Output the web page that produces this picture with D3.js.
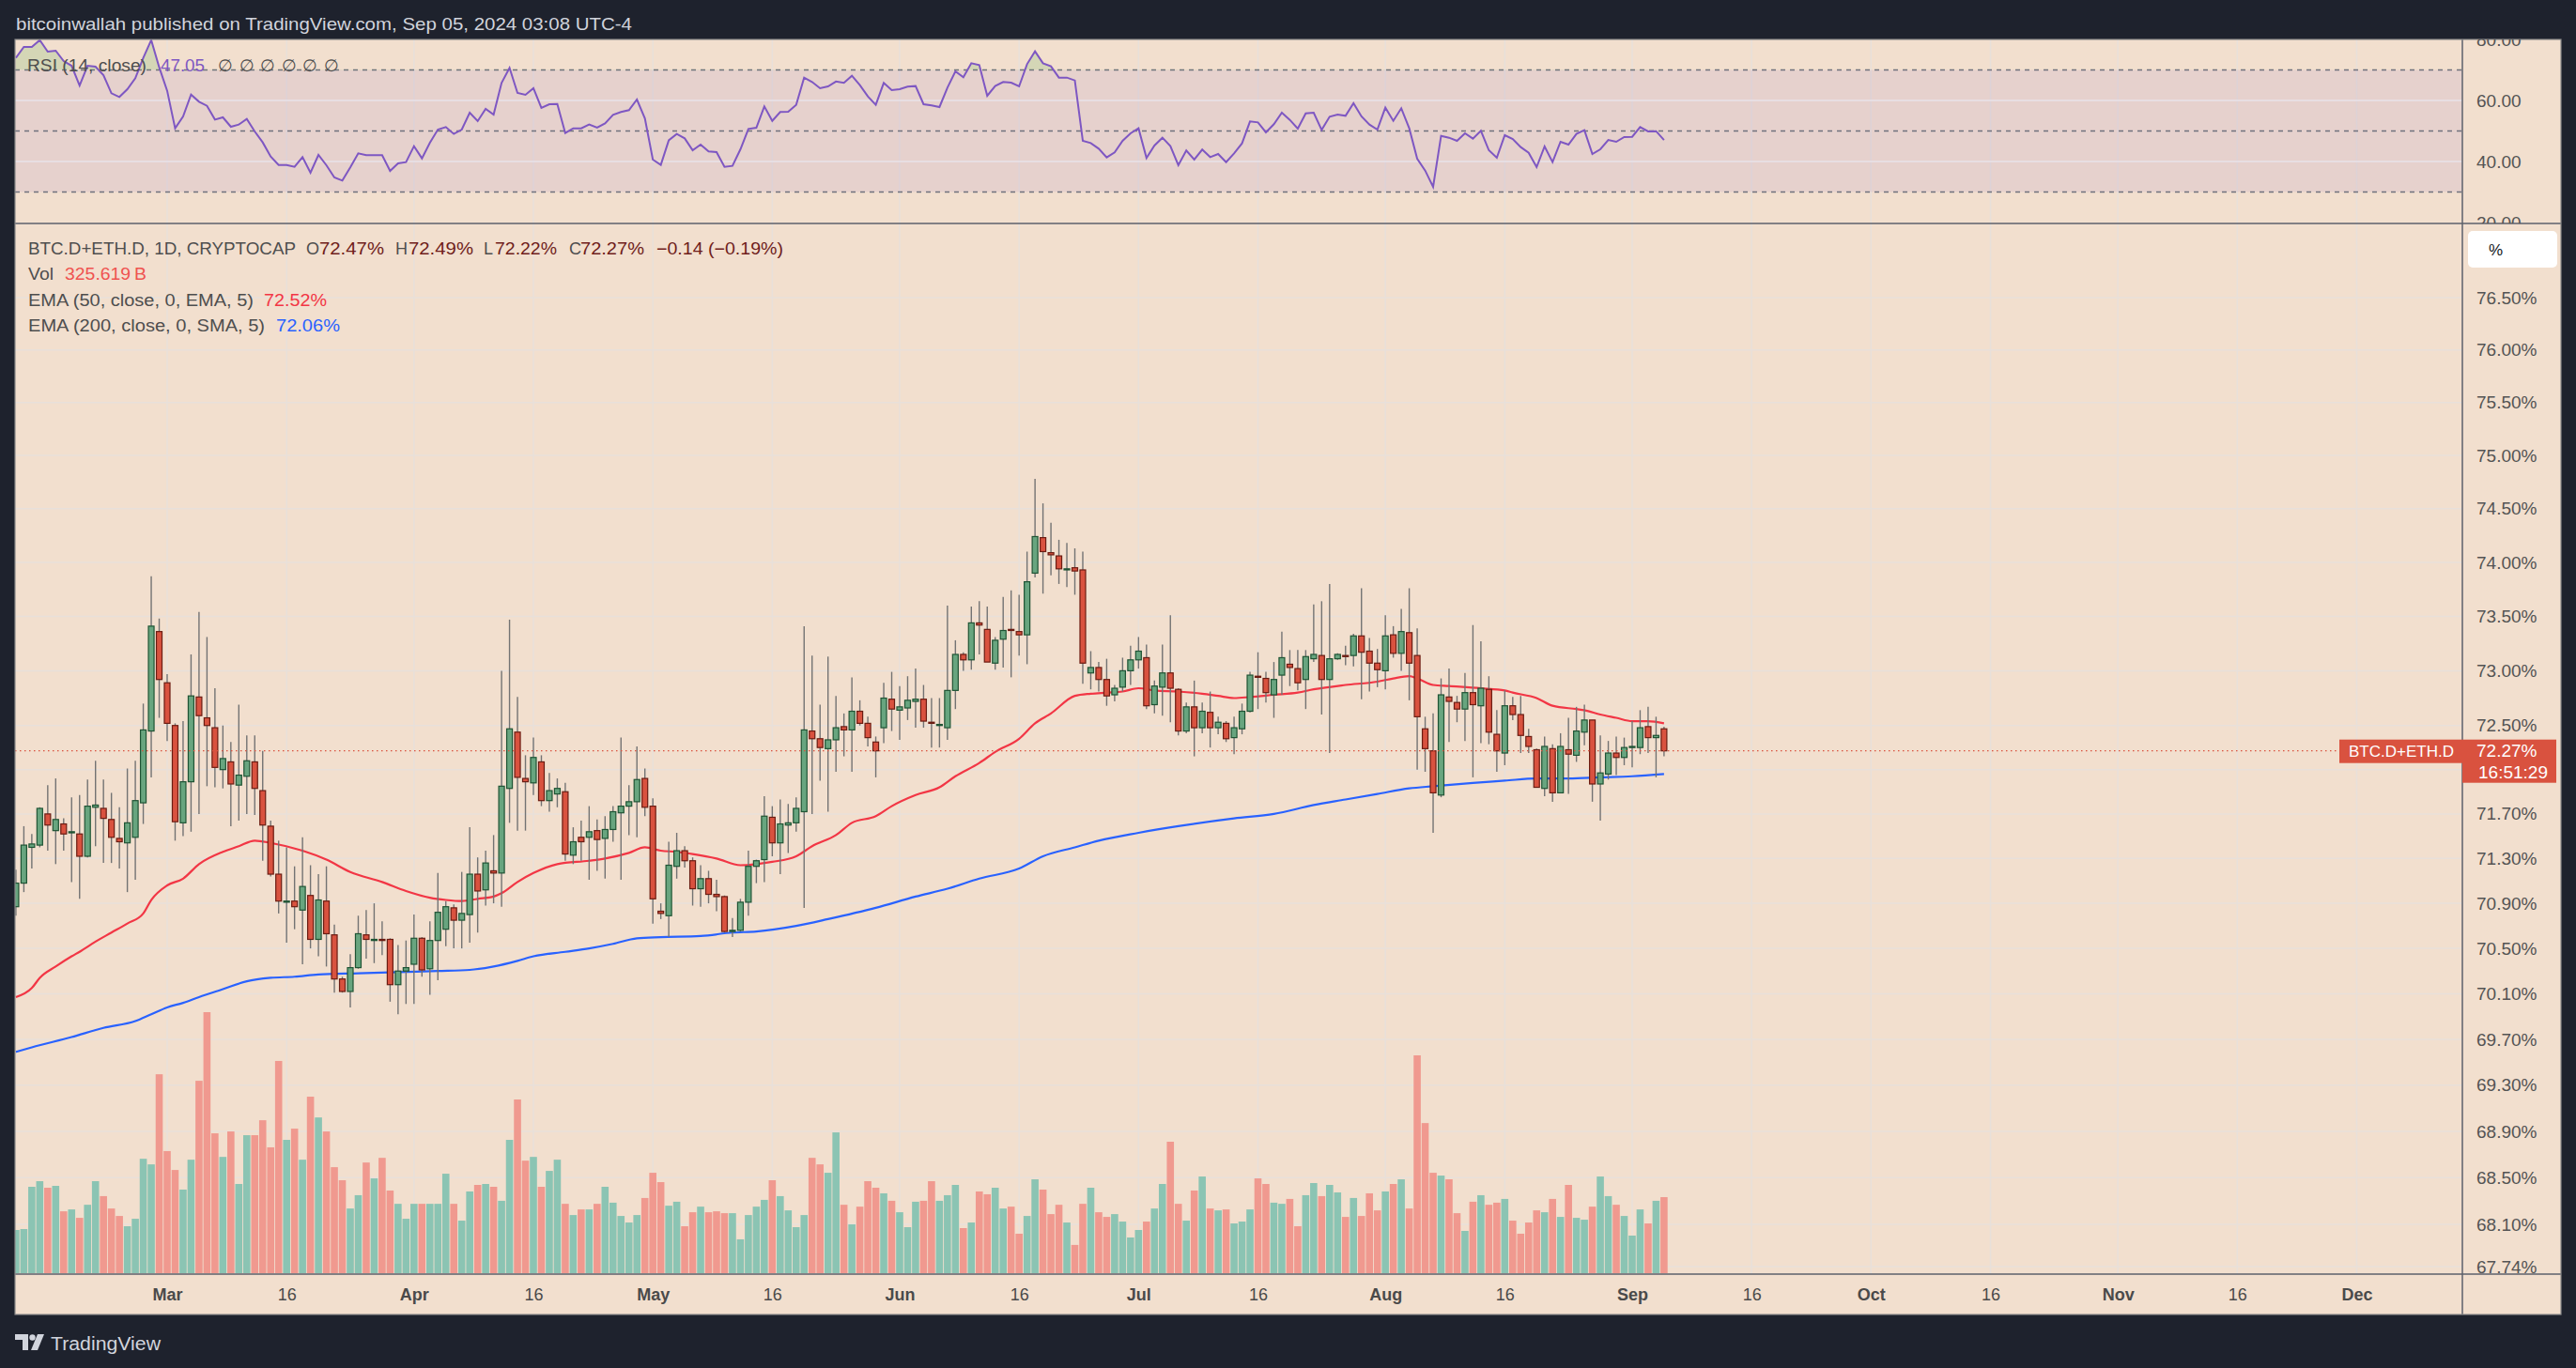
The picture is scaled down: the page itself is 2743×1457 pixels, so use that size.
<!doctype html>
<html lang="en">
<head>
<meta charset="UTF-8">
<title>BTC.D+ETH.D, 1D</title>
<style>
    html, body { margin: 0; padding: 0; background: #1e222d; }
    svg { display: block; }
    text { font-family: "Liberation Sans", Arial, sans-serif; }
</style>
</head>
<body>
<svg id="chart" width="2743" height="1457"></svg>
<script src="https://cdn.jsdelivr.net/npm/d3@7"></script>
<script>
// first daily bar shown on the left edge, one value per day after it
const firstDay = "2024-02-11";

const opens = [
    70.87, 71.08, 71.40, 71.42, 71.70, 71.55, 71.61, 71.53, 71.52, 71.32,
    71.76, 71.75, 71.65, 71.48, 71.44, 71.49, 71.80, 72.45, 73.36, 72.89,
    72.50, 71.62, 71.99, 72.76, 72.57, 72.48, 72.10, 72.17, 71.96, 72.04,
    72.17, 71.91, 71.59, 71.16, 70.91, 70.92, 70.84, 70.97, 70.58, 70.92,
    70.62, 70.23, 70.12, 70.33, 70.62, 70.57, 70.58, 70.58, 70.18, 70.30,
    70.36, 70.59, 70.32, 70.57, 70.67, 70.86, 70.75, 70.80, 71.16, 71.02,
    71.19, 71.17, 71.93, 72.44, 72.02, 71.98, 72.17, 71.82, 71.88, 71.90,
    71.33, 71.49, 71.49, 71.55, 71.48, 71.56, 71.71, 71.77, 71.81, 72.02,
    71.77, 70.83, 70.79, 71.23, 71.37, 71.28, 71.03, 71.12, 70.98, 70.96,
    70.65, 70.66, 70.91, 71.23, 71.29, 71.67, 71.44, 71.60, 71.62, 71.72,
    72.45, 72.38, 72.29, 72.37, 72.49, 72.46, 72.63, 72.52, 72.35, 72.48,
    72.74, 72.64, 72.66, 72.72, 72.74, 72.53, 72.50, 72.48, 72.82, 73.15,
    73.10, 73.44, 73.38, 73.07, 73.29, 73.38, 73.36, 73.33, 73.90, 74.23,
    74.09, 74.06, 73.93, 73.95, 73.93, 72.98, 73.03, 72.92, 72.78, 72.85,
    73.00, 73.10, 73.12, 72.69, 72.85, 72.98, 72.83, 72.45, 72.67, 72.48,
    72.62, 72.48, 72.52, 72.39, 72.47, 72.63, 72.95, 72.93, 72.78, 72.96,
    73.06, 73.02, 72.92, 73.11, 73.14, 72.92, 73.11, 73.14, 73.14, 73.32,
    73.18, 73.07, 73.00, 73.33, 73.16, 73.35, 73.14, 72.47, 72.27, 71.87,
    72.76, 72.71, 72.65, 72.80, 72.68, 72.83, 72.42, 72.25, 72.68, 72.60,
    72.40, 72.28, 71.93, 72.29, 71.89, 72.28, 72.23, 72.44, 72.55, 71.97,
    72.06, 72.25, 72.21, 72.30, 72.30, 72.49, 72.39, 72.47
];
const highs = [
    71.20, 71.59, 71.52, 71.76, 71.96, 72.02, 71.66, 71.85, 71.87, 72.01,
    72.18, 72.01, 71.89, 71.76, 72.11, 72.18, 72.70, 73.87, 73.48, 72.97,
    72.52, 72.54, 73.15, 73.54, 73.31, 72.84, 72.50, 72.35, 72.69, 72.41,
    72.41, 72.27, 71.64, 71.46, 71.40, 71.23, 71.49, 71.24, 71.16, 71.23,
    70.71, 70.25, 70.45, 70.79, 70.84, 70.90, 70.74, 70.59, 70.53, 70.57,
    70.80, 70.60, 70.74, 71.17, 70.92, 70.89, 71.18, 71.58, 71.31, 71.37,
    71.51, 73.00, 73.47, 72.76, 72.23, 72.39, 72.23, 72.07, 72.02, 71.98,
    71.58, 71.64, 71.77, 71.65, 71.68, 71.77, 72.39, 71.96, 72.31, 72.11,
    71.84, 70.90, 71.45, 71.53, 71.41, 71.31, 71.24, 71.19, 71.11, 70.97,
    70.77, 70.94, 71.37, 71.29, 71.86, 71.77, 71.83, 71.79, 71.85, 73.41,
    73.14, 72.69, 73.13, 72.77, 72.61, 72.94, 72.73, 72.58, 72.40, 72.89,
    72.99, 72.86, 72.95, 73.02, 72.87, 72.75, 72.75, 73.60, 73.28, 73.17,
    73.59, 73.64, 73.59, 73.31, 73.68, 73.74, 73.70, 74.10, 74.78, 74.55,
    74.37, 74.21, 74.18, 74.13, 74.10, 73.18, 73.08, 73.11, 72.87, 73.12,
    73.23, 73.31, 73.24, 72.91, 73.24, 73.51, 72.84, 72.71, 72.91, 72.71,
    72.81, 72.58, 72.54, 72.58, 72.70, 72.99, 73.17, 72.99, 73.08, 73.36,
    73.19, 73.19, 73.19, 73.61, 73.64, 73.80, 73.16, 73.23, 73.34, 73.76,
    73.30, 73.20, 73.51, 73.41, 73.57, 73.76, 73.39, 72.58, 72.61, 72.93,
    73.02, 72.77, 72.98, 73.42, 73.27, 72.95, 72.64, 72.82, 72.76, 72.77,
    72.47, 72.29, 72.40, 72.33, 72.43, 72.57, 72.67, 72.69, 72.55, 72.41,
    72.36, 72.40, 72.39, 72.54, 72.64, 72.67, 72.58, 72.49
];
const lows = [
    70.79, 71.00, 71.21, 71.40, 71.37, 71.25, 71.37, 71.09, 70.94, 71.31,
    71.41, 71.26, 71.26, 71.21, 71.00, 71.11, 71.61, 72.03, 72.57, 72.36,
    71.46, 71.50, 71.54, 71.70, 71.95, 71.94, 71.93, 71.59, 71.64, 71.70,
    71.69, 71.28, 71.14, 70.81, 70.55, 70.67, 70.36, 70.50, 70.43, 70.34,
    70.11, 70.11, 69.98, 70.32, 70.41, 70.37, 70.44, 70.03, 69.92, 70.01,
    70.01, 70.25, 70.09, 70.22, 70.52, 70.50, 70.50, 70.55, 70.64, 70.88,
    70.90, 70.87, 71.62, 71.55, 71.55, 71.87, 71.77, 71.72, 71.76, 71.28,
    71.25, 71.28, 71.11, 71.19, 71.12, 71.45, 71.11, 71.51, 71.49, 71.68,
    70.72, 70.76, 70.60, 71.12, 71.22, 70.88, 70.87, 70.90, 70.83, 70.64,
    70.60, 70.65, 70.79, 71.08, 71.09, 71.32, 71.16, 71.35, 71.54, 70.86,
    71.70, 72.00, 71.72, 72.08, 72.22, 72.08, 72.50, 72.31, 72.03, 72.34,
    72.45, 72.37, 72.55, 72.48, 72.48, 72.30, 72.30, 72.37, 72.65, 73.00,
    73.01, 73.15, 73.08, 73.01, 73.03, 72.94, 73.14, 73.06, 73.86, 73.71,
    73.88, 73.80, 73.77, 73.70, 72.88, 72.83, 72.81, 72.68, 72.72, 72.81,
    72.87, 73.02, 72.65, 72.61, 72.59, 72.53, 72.41, 72.43, 72.22, 72.43,
    72.30, 72.42, 72.35, 72.24, 72.42, 72.62, 72.65, 72.71, 72.57, 72.78,
    72.86, 72.82, 72.65, 73.08, 72.60, 72.25, 73.10, 73.05, 73.04, 72.74,
    72.81, 72.85, 72.83, 73.12, 73.00, 72.73, 72.10, 72.08, 71.53, 71.85,
    72.35, 72.53, 72.36, 72.03, 72.34, 72.33, 72.08, 72.14, 72.55, 72.25,
    72.25, 71.94, 71.86, 71.81, 71.89, 71.88, 72.17, 72.32, 71.81, 71.64,
    72.01, 72.05, 72.14, 72.12, 72.24, 72.25, 72.03, 72.22
];
const closes = [
    71.08, 71.42, 71.43, 71.75, 71.60, 71.65, 71.52, 71.54, 71.32, 71.77,
    71.78, 71.66, 71.49, 71.45, 71.62, 71.82, 72.46, 73.41, 72.92, 72.52,
    71.63, 71.99, 72.77, 72.59, 72.50, 72.12, 72.20, 71.97, 72.05, 72.18,
    71.93, 71.60, 71.16, 70.92, 70.92, 70.87, 71.05, 70.58, 70.93, 70.63,
    70.23, 70.12, 70.33, 70.63, 70.58, 70.58, 70.57, 70.18, 70.30, 70.33,
    70.59, 70.31, 70.57, 70.82, 70.87, 70.75, 70.81, 71.16, 71.01, 71.26,
    71.17, 71.95, 72.47, 72.03, 71.99, 72.21, 71.82, 71.91, 71.93, 71.34,
    71.45, 71.45, 71.54, 71.47, 71.56, 71.72, 71.77, 71.81, 72.01, 71.76,
    70.94, 70.81, 71.24, 71.37, 71.28, 71.03, 71.12, 70.98, 70.96, 70.65,
    70.66, 70.91, 71.23, 71.28, 71.68, 71.44, 71.61, 71.62, 71.75, 72.46,
    72.38, 72.30, 72.37, 72.48, 72.46, 72.63, 72.52, 72.39, 72.27, 72.75,
    72.65, 72.67, 72.73, 72.74, 72.54, 72.52, 72.51, 72.82, 73.15, 73.10,
    73.44, 73.42, 73.08, 73.28, 73.37, 73.37, 73.33, 73.82, 74.24, 74.10,
    74.07, 73.94, 73.94, 73.92, 73.07, 73.03, 72.92, 72.77, 72.84, 73.00,
    73.10, 73.18, 72.68, 72.86, 72.98, 72.84, 72.45, 72.67, 72.48, 72.63,
    72.48, 72.53, 72.38, 72.48, 72.63, 72.96, 72.94, 72.80, 72.92, 73.12,
    73.03, 72.89, 73.13, 73.15, 72.92, 73.11, 73.15, 73.13, 73.32, 73.17,
    73.07, 73.01, 73.32, 73.16, 73.36, 73.07, 72.58, 72.29, 71.89, 72.78,
    72.72, 72.65, 72.80, 72.69, 72.84, 72.44, 72.27, 72.68, 72.60, 72.41,
    72.31, 71.94, 72.31, 71.89, 72.31, 72.24, 72.45, 72.55, 71.97, 72.07,
    72.25, 72.21, 72.30, 72.31, 72.48, 72.39, 72.41, 72.27
];
// volume in billions
const volumes = [
    185, 189, 370, 394, 366, 374, 265, 273, 237, 293,
    394, 330, 277, 245, 201, 233, 490, 466, 852, 523,
    442, 358, 486, 824, 1118, 599, 498, 607, 382, 591,
    591, 655, 539, 909, 571, 619, 486, 756, 667, 607,
    454, 398, 277, 334, 474, 406, 494, 354, 297, 233,
    297, 297, 297, 297, 426, 297, 225, 350, 378, 382,
    370, 310, 571, 744, 482, 498, 370, 438, 486, 297,
    249, 273, 273, 297, 370, 302, 245, 217, 249, 322,
    430, 390, 289, 306, 201, 261, 285, 261, 265, 257,
    257, 145, 249, 285, 314, 398, 330, 269, 197, 249,
    494, 466, 430, 603, 293, 209, 285, 394, 366, 342,
    310, 261, 197, 306, 310, 394, 310, 334, 378, 193,
    217, 350, 338, 366, 277, 285, 169, 245, 402, 358,
    253, 293, 217, 121, 297, 366, 261, 241, 253, 221,
    153, 185, 221, 277, 382, 563, 297, 225, 354, 414,
    277, 269, 273, 213, 221, 273, 406, 382, 302, 297,
    318, 201, 334, 386, 330, 378, 346, 241, 322, 245,
    342, 269, 350, 382, 402, 277, 933, 643, 430, 418,
    402, 257, 181, 306, 334, 293, 302, 318, 225, 169,
    217, 269, 261, 318, 241, 378, 237, 229, 285, 414,
    330, 293, 245, 161, 273, 213, 310, 325.619
];
const rsiValues = [
    73.95, 77.54, 77.54, 79.79, 76.00, 76.31, 72.92, 71.38, 64.92, 71.38,
    71.08, 68.31, 62.36, 61.13, 63.69, 67.28, 73.95, 79.79, 70.87, 63.18,
    50.87, 54.77, 61.95, 59.59, 58.26, 53.74, 54.46, 51.38, 52.10, 53.95,
    49.85, 46.26, 41.64, 38.87, 38.87, 38.26, 41.44, 36.31, 42.15, 38.77,
    34.77, 33.74, 38.05, 42.67, 42.05, 42.05, 42.05, 36.92, 39.38, 39.79,
    45.03, 41.03, 46.15, 50.46, 51.28, 49.03, 50.46, 56.00, 53.23, 57.23,
    55.38, 65.74, 70.67, 62.46, 61.85, 64.00, 57.54, 58.77, 58.87, 49.33,
    50.87, 50.87, 52.10, 51.08, 52.51, 55.28, 56.21, 56.82, 60.31, 54.15,
    40.62, 38.87, 46.97, 49.03, 47.59, 43.69, 45.54, 43.28, 43.08, 38.26,
    38.56, 44.00, 50.67, 51.08, 58.05, 53.33, 56.21, 56.31, 58.56, 67.49,
    66.05, 64.00, 64.60, 66.20, 65.80, 68.10, 65.03, 61.33, 58.56, 65.74,
    63.38, 63.69, 64.51, 64.72, 58.77, 58.36, 57.85, 64.21, 69.54, 67.59,
    72.21, 71.59, 61.54, 64.72, 66.05, 65.85, 64.62, 71.90, 76.10, 72.21,
    71.18, 67.49, 67.49, 66.56, 46.77, 46.05, 44.21, 41.33, 42.97, 46.77,
    49.23, 50.87, 41.13, 45.23, 47.79, 45.03, 38.77, 43.59, 40.62, 43.90,
    41.44, 42.46, 39.79, 42.67, 45.95, 53.13, 52.82, 49.54, 52.21, 56.00,
    53.64, 50.77, 55.79, 56.00, 50.36, 54.67, 55.38, 54.97, 59.08, 54.77,
    52.10, 50.46, 57.64, 53.33, 57.44, 50.87, 40.92, 37.03, 31.69, 48.41,
    47.79, 46.77, 49.23, 47.49, 50.05, 43.69, 41.23, 48.62, 47.38, 44.72,
    42.87, 38.15, 44.92, 39.79, 46.46, 45.54, 49.03, 50.26, 42.46, 44.00,
    47.08, 46.46, 48.00, 48.10, 51.28, 49.85, 49.95, 47.05
];

// moving averages: [day, value]
const ema50 = [
    ["2024-02-11", 70.07], ["2024-02-13", 70.15], ["2024-02-14", 70.24], ["2024-02-16", 70.34],
    ["2024-02-18", 70.43], ["2024-02-19", 70.47], ["2024-02-21", 70.56], ["2024-02-23", 70.64],
    ["2024-02-25", 70.72], ["2024-02-27", 70.81], ["2024-02-28", 70.93], ["2024-03-01", 71.06],
    ["2024-03-03", 71.12], ["2024-03-05", 71.25], ["2024-03-08", 71.36], ["2024-03-10", 71.41],
    ["2024-03-12", 71.46], ["2024-03-14", 71.44], ["2024-03-18", 71.37], ["2024-03-21", 71.29],
    ["2024-03-24", 71.18], ["2024-03-28", 71.09], ["2024-03-31", 71.01], ["2024-04-03", 70.95],
    ["2024-04-05", 70.93], ["2024-04-07", 70.92], ["2024-04-09", 70.94], ["2024-04-11", 70.96],
    ["2024-04-12", 70.99], ["2024-04-14", 71.09], ["2024-04-16", 71.17], ["2024-04-19", 71.25],
    ["2024-04-23", 71.28], ["2024-04-25", 71.30], ["2024-04-28", 71.35], ["2024-04-30", 71.40],
    ["2024-05-02", 71.37], ["2024-05-04", 71.36], ["2024-05-06", 71.34], ["2024-05-09", 71.30],
    ["2024-05-12", 71.24], ["2024-05-14", 71.25], ["2024-05-16", 71.27], ["2024-05-19", 71.32],
    ["2024-05-21", 71.41], ["2024-05-24", 71.51], ["2024-05-26", 71.62], ["2024-05-29", 71.68],
    ["2024-05-31", 71.77], ["2024-06-03", 71.87], ["2024-06-06", 71.94], ["2024-06-08", 72.04],
    ["2024-06-11", 72.16], ["2024-06-13", 72.26], ["2024-06-16", 72.38], ["2024-06-18", 72.52],
    ["2024-06-20", 72.61], ["2024-06-23", 72.77], ["2024-06-25", 72.79], ["2024-06-27", 72.80],
    ["2024-06-29", 72.81], ["2024-07-01", 72.84], ["2024-07-03", 72.82], ["2024-07-06", 72.81],
    ["2024-07-09", 72.79], ["2024-07-11", 72.77], ["2024-07-13", 72.75], ["2024-07-15", 72.76],
    ["2024-07-18", 72.78], ["2024-07-21", 72.80], ["2024-07-23", 72.83], ["2024-07-27", 72.87],
    ["2024-07-31", 72.90], ["2024-08-02", 72.93], ["2024-08-04", 72.95], ["2024-08-05", 72.93],
    ["2024-08-07", 72.87], ["2024-08-09", 72.86], ["2024-08-13", 72.84], ["2024-08-16", 72.82],
    ["2024-08-17", 72.80], ["2024-08-20", 72.75], ["2024-08-22", 72.68], ["2024-08-25", 72.65],
    ["2024-08-26", 72.64], ["2024-08-28", 72.60], ["2024-08-30", 72.57], ["2024-09-01", 72.54],
    ["2024-09-03", 72.54], ["2024-09-05", 72.52]
];
const ema200 = [
    ["2024-02-11", 69.59], ["2024-02-13", 69.63], ["2024-02-18", 69.72], ["2024-02-22", 69.80],
    ["2024-02-26", 69.86], ["2024-02-28", 69.92], ["2024-03-01", 69.98], ["2024-03-03", 70.02],
    ["2024-03-05", 70.07], ["2024-03-08", 70.14], ["2024-03-11", 70.21], ["2024-03-14", 70.24],
    ["2024-03-17", 70.25], ["2024-03-20", 70.27], ["2024-03-25", 70.28], ["2024-03-30", 70.29],
    ["2024-04-04", 70.30], ["2024-04-08", 70.31], ["2024-04-11", 70.34], ["2024-04-14", 70.39],
    ["2024-04-16", 70.43], ["2024-04-20", 70.47], ["2024-04-23", 70.50], ["2024-04-26", 70.54],
    ["2024-04-29", 70.59], ["2024-05-02", 70.60], ["2024-05-07", 70.61], ["2024-05-11", 70.64],
    ["2024-05-14", 70.65], ["2024-05-19", 70.70], ["2024-05-23", 70.76], ["2024-05-29", 70.86],
    ["2024-06-03", 70.96], ["2024-06-07", 71.03], ["2024-06-11", 71.12], ["2024-06-16", 71.21],
    ["2024-06-19", 71.32], ["2024-06-23", 71.40], ["2024-06-26", 71.46], ["2024-07-01", 71.53],
    ["2024-07-06", 71.59], ["2024-07-13", 71.66], ["2024-07-18", 71.70], ["2024-07-23", 71.78],
    ["2024-07-27", 71.83], ["2024-07-31", 71.88], ["2024-08-04", 71.93], ["2024-08-07", 71.95],
    ["2024-08-12", 71.98], ["2024-08-16", 72.00], ["2024-08-20", 72.02], ["2024-08-24", 72.02],
    ["2024-08-28", 72.03], ["2024-09-01", 72.04], ["2024-09-05", 72.06]
];

const timeTicks = ["2024-03-01", "2024-03-16", "2024-04-01", "2024-04-16", "2024-05-01", "2024-05-16",
    "2024-06-01", "2024-06-16", "2024-07-01", "2024-07-16", "2024-08-01", "2024-08-16",
    "2024-09-01", "2024-09-16", "2024-10-01", "2024-10-16", "2024-11-01", "2024-11-16", "2024-12-01"];
const priceTicks = [76.5, 76, 75.5, 75, 74.5, 74, 73.5, 73, 72.5, 71.7, 71.3, 70.9,
    70.5, 70.1, 69.7, 69.3, 68.9, 68.5, 68.1, 67.74];
const priceGrid = priceTicks.concat([72.1]);
const rsiTicks = [80, 60, 40, 20];
const rsiLevels = [70, 50, 30];

const headerText = "bitcoinwallah published on TradingView.com, Sep 05, 2024 03:08 UTC-4";
const symbolText = "BTC.D+ETH.D, 1D, CRYPTOCAP";
const shortName = "BTC.D+ETH.D";
const countdown = "16:51:29";

// ---------- layout ----------
const W = 2743, H = 1457;
const left = 16, plotRight = 2622, axisRight = 2727;
const rsiTop = 42, rsiBottom = 238, mainBottom = 1357, timeBottom = 1400;

const parseDay = d3.utcParse("%Y-%m-%d");
const start = parseDay(firstDay);
const days = d3.utcDay.range(start, d3.utcDay.offset(start, closes.length));
const bars = days.map((d, i) => ({
    date: d, o: opens[i], h: highs[i], l: lows[i], c: closes[i], v: volumes[i], rsi: rsiValues[i]
}));

const x = d3.scaleUtc()
    .domain([parseDay("2024-03-01"), parseDay("2024-12-01")])
    .range([178, 2509.5]);
const y = d3.scaleLog().domain([67.74, 76.5]).range([1349, 317]);
const yRsi = d3.scaleLinear().domain([20, 80]).range([237, 42]);
const yVol = d3.scaleLinear().domain([0, d3.max(volumes)]).range([mainBottom - 1, 1078]);

const colors = {
    page: "#1e222d",
    pane: "#f2dfce",
    grid: "#e8e0da",
    up: "#68a57f", upEdge: "#1f5434",
    down: "#d9523f", downEdge: "#6b1c12",
    wick: "#737373",
    volUp: "#8bc4b3", volDown: "#f0998f",
    ema50: "#f23645", ema200: "#2962ff",
    rsi: "#7e57c2",
    text: "#4e4e4e", axisText: "#545454",
    sep: "#5d606b"
};

const svg = d3.select("#chart");
svg.append("rect").attr("width", W).attr("height", H).attr("fill", colors.page);
svg.append("rect")
    .attr("x", left).attr("y", rsiTop)
    .attr("width", axisRight - left).attr("height", timeBottom - rsiTop)
    .attr("fill", colors.pane);

const defs = svg.append("defs");
function clipRect(id, x0, y0, x1, y1) {
    defs.append("clipPath").attr("id", id).append("rect")
        .attr("x", x0).attr("y", y0).attr("width", x1 - x0).attr("height", y1 - y0);
}
clipRect("clip-rsi", left, rsiTop, plotRight, rsiBottom);
clipRect("clip-main", left, rsiBottom, plotRight, mainBottom);
clipRect("clip-rsi-axis", plotRight, rsiTop, axisRight, rsiBottom);
clipRect("clip-ob", left, rsiTop, plotRight, yRsi(70));

// ---------- grid ----------
const grid = svg.append("g").attr("clip-path", "url(#clip-main)");
grid.selectAll("line.h").data(priceGrid).join("line")
    .attr("x1", left).attr("x2", plotRight)
    .attr("y1", d => y(d)).attr("y2", d => y(d))
    .attr("stroke", colors.grid).attr("stroke-width", 1.5);

const vgrid = svg.append("g");
vgrid.selectAll("line").data(timeTicks.map(parseDay)).join("line")
    .attr("x1", d => x(d)).attr("x2", d => x(d))
    .attr("y1", rsiTop).attr("y2", mainBottom)
    .attr("stroke", colors.grid).attr("stroke-width", 1.5);

// ---------- RSI pane ----------
const rsiPane = svg.append("g").attr("clip-path", "url(#clip-rsi)");
rsiPane.append("rect")
    .attr("x", left).attr("width", plotRight - left)
    .attr("y", yRsi(70)).attr("height", yRsi(30) - yRsi(70))
    .attr("fill", "rgba(126,87,194,0.1)");
rsiPane.selectAll("line.solid").data([60, 40]).join("line")
    .attr("x1", left).attr("x2", plotRight)
    .attr("y1", d => yRsi(d)).attr("y2", d => yRsi(d))
    .attr("stroke", "#e9e2e8").attr("stroke-width", 1.5);
rsiPane.selectAll("line.level").data(rsiLevels).join("line")
    .attr("x1", left).attr("x2", plotRight)
    .attr("y1", d => yRsi(d)).attr("y2", d => yRsi(d))
    .attr("stroke", "#6f727d").attr("stroke-width", 1.4)
    .attr("stroke-dasharray", "5 5");

rsiPane.append("path")
    .datum(bars)
    .attr("clip-path", "url(#clip-ob)")
    .attr("fill", "rgba(76,175,80,0.18)")
    .attr("d", d3.area().x(d => x(d.date)).y0(yRsi(70)).y1(d => yRsi(d.rsi)));
rsiPane.append("path")
    .datum(bars)
    .attr("fill", "none").attr("stroke", colors.rsi).attr("stroke-width", 2)
    .attr("d", d3.line().x(d => x(d.date)).y(d => yRsi(d.rsi)));

// ---------- main pane ----------
const main = svg.append("g").attr("clip-path", "url(#clip-main)");

main.append("g").selectAll("rect").data(bars).join("rect")
    .attr("x", d => x(d.date) - 3.8).attr("width", 7.6)
    .attr("y", d => yVol(d.v)).attr("height", d => yVol(0) - yVol(d.v))
    .attr("fill", d => d.c >= d.o ? colors.volUp : colors.volDown);

const emaLine = d3.line()
    .x(d => x(parseDay(d[0])))
    .y(d => y(d[1]))
    .curve(d3.curveMonotoneX);
main.append("path").datum(ema200)
    .attr("fill", "none").attr("stroke", colors.ema200).attr("stroke-width", 2.2)
    .attr("d", emaLine);
main.append("path").datum(ema50)
    .attr("fill", "none").attr("stroke", colors.ema50).attr("stroke-width", 2.2)
    .attr("d", emaLine);

const candles = main.append("g").selectAll("g").data(bars).join("g");
candles.append("line")
    .attr("x1", d => x(d.date)).attr("x2", d => x(d.date))
    .attr("y1", d => y(d.h)).attr("y2", d => y(d.l))
    .attr("stroke", colors.wick).attr("stroke-width", 1.4);
candles.append("rect")
    .attr("x", d => x(d.date) - 3).attr("width", 6)
    .attr("y", d => y(Math.max(d.o, d.c)))
    .attr("height", d => Math.max(1, y(Math.min(d.o, d.c)) - y(Math.max(d.o, d.c))))
    .attr("fill", d => d.c >= d.o ? colors.up : colors.down)
    .attr("stroke", d => d.c >= d.o ? colors.upEdge : colors.downEdge)
    .attr("stroke-width", 1.2);

const last = bars[bars.length - 1];
const prev = bars[bars.length - 2];
main.append("line")
    .attr("x1", left).attr("x2", plotRight)
    .attr("y1", y(last.c)).attr("y2", y(last.c))
    .attr("stroke", colors.down).attr("stroke-width", 1.3)
    .attr("stroke-dasharray", "1.5 3.5");

// ---------- separators and frame ----------
svg.append("line").attr("x1", left).attr("x2", axisRight).attr("y1", rsiBottom).attr("y2", rsiBottom)
    .attr("stroke", colors.sep).attr("stroke-width", 1.5);
svg.append("line").attr("x1", left).attr("x2", axisRight).attr("y1", mainBottom).attr("y2", mainBottom)
    .attr("stroke", colors.sep).attr("stroke-width", 1.5);
svg.append("line").attr("x1", plotRight).attr("x2", plotRight).attr("y1", rsiTop).attr("y2", timeBottom)
    .attr("stroke", colors.sep).attr("stroke-width", 1.5);
svg.append("rect")
    .attr("x", left).attr("y", rsiTop)
    .attr("width", axisRight - left).attr("height", timeBottom - rsiTop)
    .attr("fill", "none").attr("stroke", "#8a8a8a").attr("stroke-width", 1.2);

// ---------- axes ----------
const fmt2 = d3.format(".2f");
const axisFont = "Liberation Sans, Arial, sans-serif";
const priceAxis = svg.append("g")
    .attr("transform", `translate(${plotRight},0)`)
    .call(d3.axisRight(y).tickValues(priceTicks).tickSize(0).tickPadding(15)
        .tickFormat(d => fmt2(d) + "%"));
priceAxis.select(".domain").remove();
priceAxis.selectAll("text")
    .attr("font-family", axisFont)
    .attr("font-size", 19).attr("fill", colors.axisText);

// clip is set on an outer group so it stays in page coordinates
const rsiAxis = svg.append("g")
    .attr("clip-path", "url(#clip-rsi-axis)")
    .append("g")
    .attr("transform", `translate(${plotRight},0)`)
    .call(d3.axisRight(yRsi).tickValues(rsiTicks).tickSize(0).tickPadding(15).tickFormat(fmt2));
rsiAxis.select(".domain").remove();
rsiAxis.selectAll("text")
    .attr("font-family", axisFont)
    .attr("font-size", 19).attr("fill", colors.axisText);

const timeAxis = svg.append("g")
    .attr("transform", `translate(0,${mainBottom})`)
    .call(d3.axisBottom(x).tickValues(timeTicks.map(parseDay)).tickSize(0).tickPadding(15)
        .tickFormat(d => d.getUTCDate() === 1 ? d3.utcFormat("%b")(d) : d3.utcFormat("%-d")(d)));
timeAxis.select(".domain").remove();
timeAxis.selectAll("text")
    .attr("font-family", axisFont)
    .attr("font-size", 18).attr("fill", "#4a4a4a")
    .attr("font-weight", d => d.getUTCDate() === 1 ? "bold" : "normal");

// last price marker on the scale
const yLast = y(last.c);
svg.append("rect")
    .attr("x", plotRight).attr("y", yLast - 12).attr("width", 100).attr("height", 46)
    .attr("fill", colors.down);
svg.append("text").attr("x", plotRight + 15).attr("y", yLast + 6.5)
    .attr("font-size", 19).attr("fill", "#fff").text(fmt2(last.c) + "%");
svg.append("text").attr("x", plotRight + 17).attr("y", yLast + 29)
    .attr("font-size", 19).attr("fill", "#fff").text(countdown);
svg.append("rect")
    .attr("x", plotRight - 131).attr("y", yLast - 12).attr("width", 131).attr("height", 25)
    .attr("fill", colors.down);
svg.append("text").attr("x", plotRight - 65).attr("y", yLast + 6.5)
    .attr("text-anchor", "middle").attr("font-size", 17).attr("fill", "#fff").text(shortName);

// percent scale button
svg.append("rect").attr("x", 2628).attr("y", 246).attr("width", 95).attr("height", 39).attr("rx", 5)
    .attr("fill", "#ffffff");
svg.append("text").attr("x", 2650).attr("y", 272).attr("font-size", 17).attr("fill", "#131722").text("%");

// ---------- legends ----------
// each part: text, colour, start x and the width it takes in the picture
const uiFont = "Inter, 'Liberation Sans', sans-serif";
function legend(yBase, parts) {
    parts.forEach(p => {
        const t = svg.append("text")
            .attr("x", p.at).attr("y", yBase)
            .attr("font-family", uiFont).attr("font-size", 18)
            .attr("fill", p.color || colors.text)
            .text(p.text);
        if (p.w) t.attr("textLength", p.w).attr("lengthAdjust", "spacingAndGlyphs");
    });
}
const maroon = "#6f1d1b";
const chg = last.c - prev.c;
const signed = v => (v < 0 ? "\u2212" : "+") + fmt2(Math.abs(v));
legend(271, [
    {text: symbolText, at: 30, w: 285},
    {text: "O", at: 326}, {text: fmt2(last.o) + "%", color: maroon, at: 340, w: 69},
    {text: "H", at: 421}, {text: fmt2(last.h) + "%", color: maroon, at: 435, w: 69},
    {text: "L", at: 515}, {text: fmt2(last.l) + "%", color: maroon, at: 527, w: 66},
    {text: "C", at: 606}, {text: fmt2(last.c) + "%", color: maroon, at: 618, w: 68},
    {text: signed(chg) + " (" + signed(chg / prev.c * 100) + "%)", color: maroon, at: 699, w: 135}
]);
legend(298, [
    {text: "Vol", at: 30, w: 27},
    {text: d3.format(".3f")(last.v) + "\u2009B", color: "#ef5350", at: 69, w: 87}
]);
legend(326, [
    {text: "EMA (50, close, 0, EMA, 5)", at: 30, w: 240},
    {text: fmt2(ema50[ema50.length - 1][1]) + "%", color: colors.ema50, at: 281, w: 67}
]);
legend(353, [
    {text: "EMA (200, close, 0, SMA, 5)", at: 30, w: 252},
    {text: fmt2(ema200[ema200.length - 1][1]) + "%", color: colors.ema200, at: 294, w: 68}
]);
legend(76, [
    {text: "RSI (14, close)", at: 29, w: 127},
    {text: fmt2(last.rsi), color: colors.rsi, at: 171, w: 47}
].concat(d3.range(6).map(i => ({text: "\u2205", at: 232 + i * 22.5}))));

// ---------- header and footer ----------
svg.append("text").attr("x", 17).attr("y", 32)
    .attr("font-family", uiFont).attr("font-size", 19)
    .attr("textLength", 656).attr("lengthAdjust", "spacingAndGlyphs")
    .attr("fill", "#d1d4dc").text(headerText);

const logo = svg.append("g").attr("fill", "#d1d4dc");
logo.append("path").attr("d", "M16 1421 h14 v17 h-6 v-11 h-8 z");
logo.append("circle").attr("cx", 34.5).attr("cy", 1424.5).attr("r", 3.2);
logo.append("path").attr("d", "M40 1421 h7 l-7 17 h-7 z");
svg.append("text").attr("x", 54).attr("y", 1437.5)
    .attr("font-family", uiFont).attr("font-size", 20)
    .attr("textLength", 117).attr("lengthAdjust", "spacingAndGlyphs")
    .attr("fill", "#d1d4dc").text("TradingView");
</script>
</body>
</html>
